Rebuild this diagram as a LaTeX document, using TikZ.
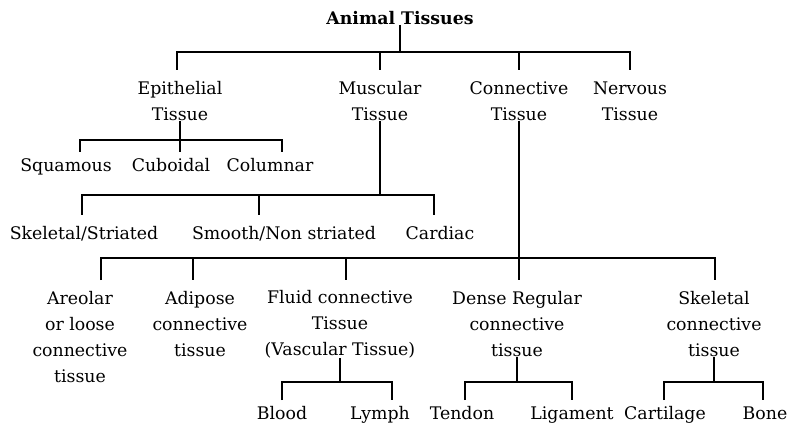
\documentclass[tikz,border=0pt]{standalone}
\usepackage{fontspec}
\setmainfont{DejaVu Serif}
\begin{document}
\begin{tikzpicture}[x=0.75pt,y=-0.75pt,
  lbl/.style={align=center,inner sep=0pt,font=\fontsize{13}{19.5}\selectfont},
  one/.style={lbl,text height=9pt,text depth=3pt},
  ln/.style={line width=1.3pt}]
\useasboundingbox (0,0) rectangle (800,431);
\node[lbl,font=\fontsize{13}{19.5}\selectfont\bfseries] (root) at (400,18) {Animal Tissues};
\node[lbl] (ep) at (180,101) {Epithelial\\Tissue};
\node[lbl] (mu) at (380,101) {Muscular\\Tissue};
\node[lbl] (co) at (519,101) {Connective\\Tissue};
\node[lbl] (ne) at (630,101) {Nervous\\Tissue};
\node[one] (sq) at (66,168) {Squamous};
\node[one] (cu) at (171,168) {Cuboidal};
\node[one] (cl) at (270,168) {Columnar};
\node[one] (sk) at (84,235) {Skeletal/Striated};
\node[one] (sm) at (284,235) {Smooth/Non striated};
\node[one] (ca) at (440,235) {Cardiac};
\node[lbl] (ar) at (80,337) {Areolar\\or loose\\connective\\tissue};
\node[lbl] (ad) at (200,324) {Adipose\\connective\\tissue};
\node[lbl] (fl) at (340,324) {Fluid connective\\Tissue\\(Vascular Tissue)};
\node[lbl] (de) at (517,324) {Dense Regular\\connective\\tissue};
\node[lbl] (sc) at (714,324) {Skeletal\\connective\\tissue};
\node[one] (bl) at (282,415) {Blood};
\node[one] (ly) at (380,415) {Lymph};
\node[one] (te) at (462,415) {Tendon};
\node[one] (li) at (572,415) {Ligament};
\node[one] (cg) at (665,415) {Cartilage};
\node[one] (bo) at (765,415) {Bone};
% root
\draw[ln] (root.south) -- (400,52);
\draw[ln] (177,70) -- (177,52) -- (630,52) -- (630,70);
\draw[ln] (380,52) -- (380,70);
\draw[ln] (519,52) -- (519,70);
% epithelial
\draw[ln] (ep.south) -- (180,140);
\draw[ln] (80,152) -- (80,140) -- (282,140) -- (282,152);
\draw[ln] (180,140) -- (180,152);
% muscular
\draw[ln] (mu.south) -- (380,195);
\draw[ln] (82,215) -- (82,195) -- (434,195) -- (434,215);
\draw[ln] (259,195) -- (259,215);
% connective
\draw[ln] (co.south) -- (519,258);
\draw[ln] (101,280) -- (101,258) -- (715,258) -- (715,280);
\draw[ln] (193,258) -- (193,280);
\draw[ln] (346,258) -- (346,280);
\draw[ln] (519,258) -- (519,280);
% fluid
\draw[ln] (fl.south) -- (340,382);
\draw[ln] (282,400) -- (282,382) -- (392,382) -- (392,400);
% dense
\draw[ln] (de.south) -- (517,382);
\draw[ln] (465,400) -- (465,382) -- (572,382) -- (572,400);
% skeletal
\draw[ln] (sc.south) -- (714,382);
\draw[ln] (664,400) -- (664,382) -- (763,382) -- (763,400);
\end{tikzpicture}
\end{document}
